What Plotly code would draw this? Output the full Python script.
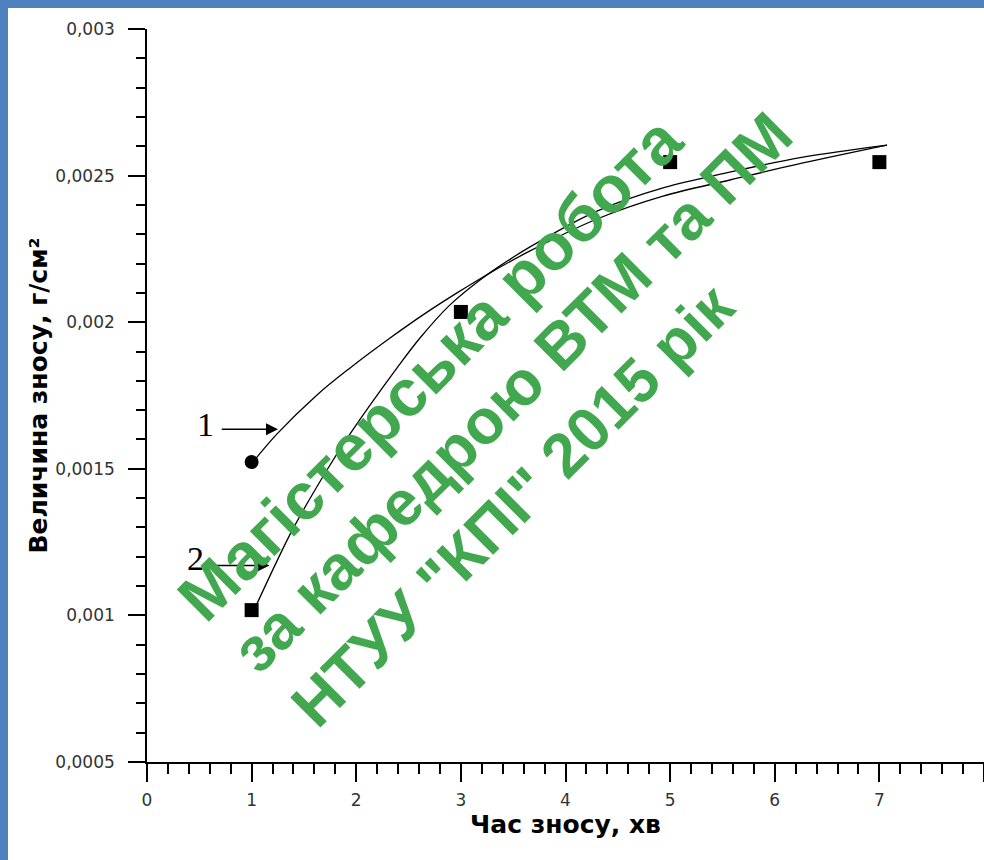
import plotly.graph_objects as go

# ---- data ----
curve1_x = [1.013, 1.243, 1.625, 1.941, 2.323, 2.638, 2.963, 3.278, 3.661, 4.301, 4.932, 5.572, 6.270, 7.073]
curve1_y = [0.001523, 0.001619, 0.001752, 0.001844, 0.001946, 0.002025, 0.002100, 0.002168,
            0.002243, 0.002352, 0.002430, 0.002485, 0.002543, 0.002604]

curve2_x = [1.032, 1.243, 1.395, 1.720, 1.941, 2.390, 2.609, 2.896, 3.183, 3.374, 3.661, 4.301, 4.932,
            5.572, 6.270, 7.073]
curve2_y = [0.001025, 0.001186, 0.001295, 0.001496, 0.001619, 0.001844, 0.001946, 0.002059,
            0.002144, 0.002192, 0.002257, 0.002379, 0.002458, 0.002512, 0.002563, 0.002604]

circle_x = [1]
circle_y = [0.001523]

square_x = [1, 3, 5, 7]
square_y = [0.001018, 0.002035, 0.002546, 0.002546]

x_title = "Час зносу, хв"
y_title = "Величина зносу, г/см²"
y_tickvals = [0.0005, 0.001, 0.0015, 0.002, 0.0025, 0.003]
y_ticktext = ["0,0005", "0,001", "0,0015", "0,002", "0,0025", "0,003"]
x_tickvals = [0, 1, 2, 3, 4, 5, 6, 7, 8]

label1 = "1"
label2 = "2"
watermark = ["Магістерська робота", "за кафедрою ВТМ та ПМ", "НТУУ \"КПІ\" 2015 рік"]

# ---- figure ----
W, H = 984, 860
ML, MR, MT, MB = 147, 0, 29, 98
PW, PH = W - ML - MR, H - MT - MB


def px2paper(px, py):
    return (px - ML) / PW, (H - MB - py) / PH


fig = go.Figure()
fig.add_trace(go.Scatter(x=curve1_x, y=curve1_y, mode="lines", line=dict(color="black", width=1.3, shape="spline"),
                         showlegend=False, hoverinfo="skip"))
fig.add_trace(go.Scatter(x=curve2_x, y=curve2_y, mode="lines", line=dict(color="black", width=1.3, shape="spline"),
                         showlegend=False, hoverinfo="skip"))
fig.add_trace(go.Scatter(x=circle_x, y=circle_y, mode="markers",
                         marker=dict(symbol="circle", size=14, color="black"), showlegend=False))
fig.add_trace(go.Scatter(x=square_x, y=square_y, mode="markers",
                         marker=dict(symbol="square", size=14, color="black"), showlegend=False))

# curve labels with arrows
fig.add_annotation(x=1.252, y=0.001635, ax=0.70, ay=0.001635, axref="x", ayref="y", xref="x", yref="y",
                   text="", showarrow=True, arrowhead=2, arrowsize=1.5, arrowwidth=1.6, arrowcolor="black")
fig.add_annotation(x=0.555, y=0.001650, text=label1, showarrow=False, xref="x", yref="y",
                   font=dict(family="Liberation Serif", size=34, color="black"))
fig.add_annotation(x=1.17, y=0.001170, ax=0.57, ay=0.001170, axref="x", ayref="y", xref="x", yref="y",
                   text="", showarrow=True, arrowhead=2, arrowsize=1.5, arrowwidth=1.6, arrowcolor="black")
fig.add_annotation(x=0.46, y=0.001195, text=label2, showarrow=False, xref="x", yref="y",
                   font=dict(family="Liberation Serif", size=34, color="black"))

# watermark
wm_centers = [(430, 368), (512, 392), (512, 505)]
wm_sizes = [66, 63, 62]
for txt, (cx, cy), fs in zip(watermark, wm_centers, wm_sizes):
    xp, yp = px2paper(cx, cy)
    fig.add_annotation(x=xp, y=yp, xref="paper", yref="paper", text="<b>" + txt + "</b>", showarrow=False,
                       textangle=-45, xanchor="center", yanchor="middle",
                       font=dict(family="Liberation Sans", size=fs, color="rgb(66,168,79)"))

# blue frame (left & top)
blue = "rgb(79,129,189)"
x0p, _ = px2paper(0, 0)
x1p, _ = px2paper(8, 0)
fig.add_shape(type="rect", xref="paper", yref="paper", x0=x0p, x1=x1p, y0=px2paper(0, 860)[1], y1=px2paper(0, 0)[1],
              fillcolor=blue, line=dict(width=0), layer="above")
fig.add_shape(type="rect", xref="paper", yref="paper", x0=x0p, x1=px2paper(984, 0)[0], y0=px2paper(0, 8)[1],
              y1=px2paper(0, 0)[1], fillcolor=blue, line=dict(width=0), layer="above")

tickfont = dict(family="DejaVu Sans", size=17, color="#333333")
fig.update_xaxes(range=[0, 8], tickvals=x_tickvals, ticks="outside", ticklen=18, tickwidth=1.6, tickcolor="black",
                 showline=True, linecolor="black", linewidth=1.6, showgrid=False, zeroline=False,
                 tickfont=tickfont, ticklabelstandoff=4,
                 minor=dict(dtick=0.2, ticks="outside", ticklen=10, tickwidth=1.6, tickcolor="black", showgrid=False),
                 title=dict(text="<b>" + x_title + "</b>", font=dict(family="DejaVu Sans", size=25, color="black"),
                            standoff=5))
fig.update_yaxes(range=[0.0005, 0.003], tickvals=y_tickvals, ticktext=y_ticktext, ticks="outside", ticklen=17,
                 tickwidth=1.6, tickcolor="black", showline=True, linecolor="black", linewidth=1.6,
                 showgrid=False, zeroline=False, tickfont=tickfont, ticklabelstandoff=10,
                 minor=dict(dtick=0.0001, tick0=0.0005, ticks="outside", ticklen=9, tickwidth=1.6, tickcolor="black",
                            showgrid=False),
                 title=dict(text="<b>" + y_title + "</b>", font=dict(family="DejaVu Sans", size=25, color="black"),
                            standoff=1))

fig.update_layout(width=W, height=H, margin=dict(l=ML, r=MR, t=MT, b=MB, autoexpand=False),
                  plot_bgcolor="white", paper_bgcolor="white", showlegend=False)

fig.write_html("out.html")
